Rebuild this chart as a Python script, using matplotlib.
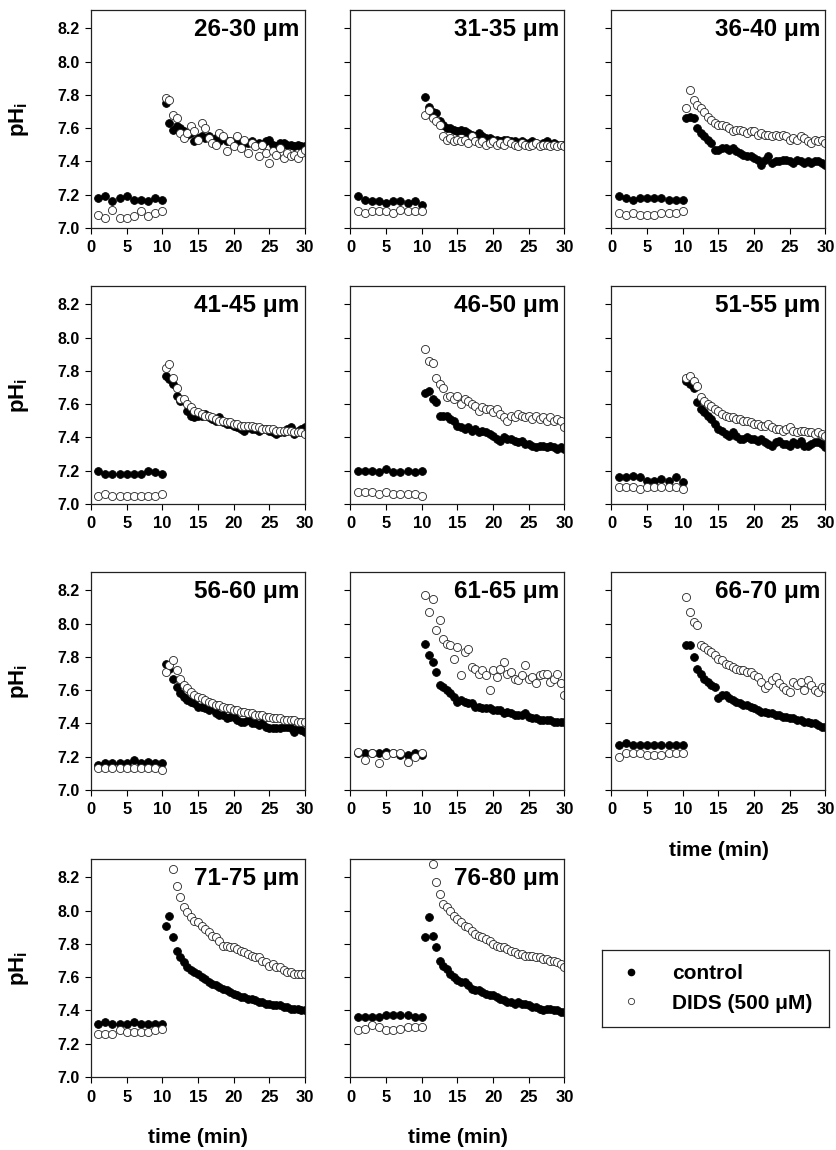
import numpy as np
import matplotlib
matplotlib.use("Agg")
import matplotlib.pyplot as plt
from matplotlib.lines import Line2D

plt.rcParams['font.family'] = ['Liberation Sans', 'DejaVu Sans']
plt.rcParams['mathtext.fontset'] = 'custom'
plt.rcParams['mathtext.rm'] = 'Liberation Sans:bold'
plt.rcParams['mathtext.bf'] = 'Liberation Sans:bold'
plt.rcParams['mathtext.it'] = 'Liberation Sans:bold'

# ---------------- data ----------------
time_base = [1, 2, 3, 4, 5, 6, 7, 8, 9, 10]
time_post = [10.5, 11.0, 11.5, 12.0, 12.5, 13.0, 13.5, 14.0, 14.5, 15.0,
             15.5, 16.0, 16.5, 17.0, 17.5, 18.0, 18.5, 19.0, 19.5, 20.0,
             20.5, 21.0, 21.5, 22.0, 22.5, 23.0, 23.5, 24.0, 24.5, 25.0,
             25.5, 26.0, 26.5, 27.0, 27.5, 28.0, 28.5, 29.0, 29.5, 30.0]
nan = float('nan')

panel_labels = ['26-30 μm', '31-35 μm', '36-40 μm', '41-45 μm', '46-50 μm',
                '51-55 μm', '56-60 μm', '61-65 μm', '66-70 μm', '71-75 μm',
                '76-80 μm']

ctrl_26_30 = [7.18, 7.19, 7.16, 7.18, 7.19, 7.17, 7.17, 7.16, 7.18, 7.17,
              7.75, 7.63, 7.59, 7.61, 7.60, 7.58, 7.56, 7.57, 7.52, 7.54,
              7.55, 7.54, 7.55, 7.53, 7.54, 7.52, 7.54, 7.52, 7.52, 7.51,
              7.53, 7.52, 7.51, 7.51, 7.52, 7.50, 7.51, 7.50, 7.52, 7.53,
              7.50, 7.49, 7.51, 7.51, 7.50, 7.50, 7.49, 7.50, 7.49, 7.49]
dids_26_30 = [7.08, 7.06, 7.11, 7.06, 7.06, 7.07, 7.10, 7.07, 7.09, 7.10,
              7.78, 7.77, 7.68, 7.66, 7.57, 7.54, 7.57, 7.61, 7.58, 7.53,
              7.63, 7.60, 7.54, 7.51, 7.50, 7.57, 7.55, 7.46, 7.52, 7.49,
              7.55, 7.48, 7.53, 7.45, 7.51, 7.49, 7.43, 7.50, 7.45, 7.39,
              7.46, 7.44, 7.48, 7.42, 7.45, 7.43, 7.44, 7.42, 7.45, 7.47]

ctrl_31_35 = [7.19, 7.17, 7.16, 7.16, 7.15, 7.16, 7.16, 7.15, 7.16, 7.14,
              7.79, 7.73, 7.70, 7.69, 7.64, 7.62, 7.60, 7.60, 7.59, 7.58,
              7.59, 7.58, 7.57, 7.56, 7.55, 7.57, 7.55, 7.54, 7.54, 7.53,
              7.53, 7.52, 7.53, 7.53, 7.52, 7.52, 7.51, 7.52, 7.51, 7.51,
              7.52, 7.51, 7.50, 7.51, 7.52, 7.50, 7.51, 7.50, 7.50, 7.50]
dids_31_35 = [7.10, 7.09, 7.10, 7.10, 7.10, 7.09, 7.11, 7.10, 7.10, 7.10,
              7.68, 7.71, 7.66, 7.64, 7.62, 7.55, 7.53, 7.54, 7.52, 7.53,
              7.52, 7.53, 7.51, 7.55, 7.52, 7.51, 7.52, 7.50, 7.51, 7.52,
              7.50, 7.51, 7.50, 7.52, 7.51, 7.50, 7.49, 7.51, 7.50, 7.49,
              7.50, 7.51, 7.49, 7.50, 7.50, 7.49, 7.50, 7.49, 7.50, 7.49]

ctrl_36_40 = [7.19, 7.18, 7.17, 7.18, 7.18, 7.18, 7.18, 7.17, 7.17, 7.17,
              7.66, 7.67, 7.66, 7.60, 7.57, 7.55, 7.53, 7.51, 7.47, 7.47,
              7.48, 7.48, 7.47, 7.48, 7.46, 7.45, 7.44, 7.43, 7.43, 7.42,
              7.41, 7.38, 7.41, 7.43, 7.39, 7.40, 7.40, 7.41, 7.41, 7.40,
              7.39, 7.41, 7.40, 7.39, 7.40, 7.39, 7.40, 7.40, 7.39, 7.38]
dids_36_40 = [7.09, 7.08, 7.09, 7.08, 7.08, 7.08, 7.09, 7.09, 7.09, 7.10,
              7.72, 7.83, 7.77, 7.74, 7.72, 7.70, 7.67, 7.65, 7.63, 7.62,
              7.62, 7.61, 7.60, 7.58, 7.59, 7.59, 7.58, 7.57, 7.58, 7.58,
              7.56, 7.57, 7.56, 7.56, 7.55, 7.56, 7.55, 7.56, 7.55, 7.53,
              7.54, 7.53, 7.55, 7.54, 7.52, 7.51, 7.53, 7.52, 7.53, 7.51]

ctrl_41_45 = [7.20, 7.18, 7.18, 7.18, 7.18, 7.18, 7.18, 7.20, 7.19, 7.18,
              7.77, 7.75, 7.72, 7.65, 7.62, 7.62, 7.56, 7.53, 7.52, 7.53,
              7.53, 7.54, 7.52, 7.51, 7.50, 7.52, 7.49, 7.48, 7.48, 7.47,
              7.46, 7.45, 7.44, 7.46, 7.45, 7.45, 7.44, 7.45, 7.45, 7.44,
              7.43, 7.42, 7.43, 7.43, 7.45, 7.46, 7.42, 7.44, 7.45, 7.46]
dids_41_45 = [7.05, 7.06, 7.05, 7.05, 7.05, 7.05, 7.05, 7.05, 7.05, 7.06,
              7.82, 7.84, 7.76, 7.70, 7.63, 7.63, 7.60, 7.58, 7.56, 7.55,
              7.54, 7.53, 7.53, 7.52, 7.51, 7.50, 7.50, 7.49, 7.49, 7.48,
              7.48, 7.47, 7.47, 7.47, 7.47, 7.46, 7.46, 7.45, 7.45, 7.45,
              7.45, 7.44, 7.44, 7.44, 7.44, 7.44, 7.43, 7.43, 7.43, 7.42]

ctrl_46_50 = [7.20, 7.20, 7.20, 7.19, 7.21, 7.19, 7.19, 7.20, 7.19, 7.20,
              7.67, 7.68, 7.63, 7.61, 7.53, 7.53, 7.53, 7.51, 7.50, 7.47,
              7.46, 7.45, 7.46, 7.44, 7.45, 7.43, 7.44, 7.43, 7.42, 7.41,
              7.39, 7.38, 7.40, 7.39, 7.39, 7.38, 7.37, 7.38, 7.36, 7.36,
              7.35, 7.34, 7.35, 7.35, 7.34, 7.35, 7.34, 7.33, 7.34, 7.33]
dids_46_50 = [7.07, 7.07, 7.07, 7.06, 7.07, 7.06, 7.06, 7.06, 7.06, 7.05,
              7.93, 7.86, 7.85, 7.76, 7.72, 7.70, 7.64, 7.65, 7.63, 7.65,
              7.60, 7.63, 7.62, 7.60, 7.59, 7.56, 7.58, 7.57, 7.57, 7.55,
              7.57, 7.54, 7.52, 7.50, 7.53, 7.52, 7.54, 7.53, 7.52, 7.53,
              7.51, 7.53, 7.51, 7.52, 7.50, 7.52, 7.50, 7.51, 7.50, 7.46]

ctrl_51_55 = [7.16, 7.16, 7.17, 7.16, 7.14, 7.14, 7.15, 7.14, 7.16, 7.13,
              7.74, 7.72, 7.70, 7.61, 7.57, 7.55, 7.53, 7.51, 7.48, 7.45,
              7.44, 7.42, 7.41, 7.43, 7.41, 7.39, 7.39, 7.40, 7.39, 7.39,
              7.38, 7.39, 7.37, 7.36, 7.35, 7.37, 7.38, 7.36, 7.36, 7.35,
              7.37, 7.36, 7.38, 7.35, 7.35, 7.36, 7.37, 7.37, 7.36, 7.34]
dids_51_55 = [7.10, 7.10, 7.10, 7.09, 7.10, 7.10, 7.10, 7.10, 7.10, 7.09,
              7.76, 7.77, 7.74, 7.71, 7.64, 7.62, 7.60, 7.59, 7.57, 7.56,
              7.54, 7.53, 7.52, 7.52, 7.51, 7.51, 7.50, 7.50, 7.49, 7.48,
              7.48, 7.47, 7.47, 7.48, 7.46, 7.45, 7.45, 7.44, 7.45, 7.46,
              7.44, 7.43, 7.44, 7.44, 7.43, 7.43, 7.42, 7.43, 7.42, 7.41]

ctrl_56_60 = [7.15, 7.16, 7.16, 7.16, 7.16, 7.18, 7.16, 7.17, 7.16, 7.16,
              7.76, 7.73, 7.67, 7.62, 7.58, 7.56, 7.54, 7.53, 7.52, 7.50,
              7.50, 7.49, 7.48, 7.49, 7.46, 7.45, 7.45, 7.43, 7.44, 7.44,
              7.42, 7.41, 7.41, 7.42, 7.40, 7.40, 7.39, 7.40, 7.38, 7.37,
              7.37, 7.37, 7.37, 7.38, 7.38, 7.37, 7.35, 7.37, 7.36, 7.35]
dids_56_60 = [7.13, 7.13, 7.13, 7.13, 7.13, 7.13, 7.13, 7.13, 7.13, 7.12,
              7.71, 7.75, 7.78, 7.72, 7.67, 7.63, 7.61, 7.59, 7.57, 7.56,
              7.55, 7.54, 7.53, 7.52, 7.51, 7.51, 7.50, 7.49, 7.49, 7.48,
              7.48, 7.47, 7.47, 7.46, 7.46, 7.45, 7.45, 7.45, 7.44, 7.44,
              7.43, 7.43, 7.43, 7.42, 7.42, 7.42, 7.42, 7.41, 7.41, 7.41]

ctrl_61_65 = [7.22, 7.22, 7.22, 7.22, 7.23, 7.22, 7.21, 7.21, 7.22, 7.21,
              7.88, 7.81, 7.77, 7.71, 7.63, 7.62, 7.60, 7.58, 7.56, 7.53,
              7.54, 7.53, 7.52, 7.52, 7.50, 7.50, 7.49, 7.49, 7.49, 7.48,
              7.48, 7.48, 7.46, 7.47, 7.46, 7.45, 7.45, 7.45, 7.46, 7.44,
              7.43, 7.43, 7.42, 7.42, 7.42, 7.42, 7.41, 7.41, 7.41, 7.41]
dids_61_65 = [7.23, 7.18, 7.22, 7.16, 7.21, 7.22, 7.22, 7.17, 7.20, 7.22,
              8.17, 8.07, 8.15, 7.96, 8.02, 7.91, 7.88, 7.87, 7.79, 7.86,
              7.69, 7.83, 7.85, 7.74, 7.73, 7.70, 7.72, 7.69, 7.60, 7.72,
              7.68, 7.73, 7.77, 7.70, 7.71, 7.67, 7.66, 7.69, 7.75, 7.67,
              7.68, 7.64, 7.69, 7.70, 7.70, 7.65, 7.67, 7.70, 7.64, 7.57]

ctrl_66_70 = [7.27, 7.28, 7.27, 7.27, 7.27, 7.27, 7.27, 7.27, 7.27, 7.27,
              7.87, 7.87, 7.80, 7.73, 7.70, 7.67, 7.65, 7.63, 7.62, 7.55,
              7.57, 7.57, 7.55, 7.54, 7.53, 7.52, 7.51, 7.51, 7.50, 7.49,
              7.48, 7.47, 7.47, 7.46, 7.46, 7.45, 7.45, 7.44, 7.44, 7.43,
              7.43, 7.42, 7.42, 7.41, 7.41, 7.40, 7.40, 7.39, 7.38, 7.38]
dids_66_70 = [7.20, 7.22, 7.22, 7.22, 7.21, 7.21, 7.21, 7.22, 7.22, 7.22,
              8.16, 8.07, 8.01, 7.99, 7.87, 7.86, 7.84, 7.83, 7.81, 7.79,
              7.78, 7.76, 7.75, 7.74, 7.73, 7.72, 7.72, 7.71, 7.71, 7.69,
              7.68, 7.65, 7.61, 7.63, 7.66, 7.68, 7.64, 7.62, 7.60, 7.59,
              7.65, 7.63, 7.65, 7.60, 7.66, 7.63, 7.60, 7.59, 7.62, 7.61]

ctrl_71_75 = [7.32, 7.33, 7.32, 7.32, 7.32, 7.33, 7.32, 7.32, 7.32, 7.32,
              7.91, 7.97, 7.84, 7.76, 7.72, 7.69, 7.66, 7.64, 7.63, 7.62,
              7.60, 7.59, 7.57, 7.56, 7.55, 7.54, 7.53, 7.52, 7.51, 7.50,
              7.49, 7.48, 7.48, 7.47, 7.47, 7.46, 7.45, 7.45, 7.44, 7.44,
              7.43, 7.43, 7.43, 7.42, 7.42, 7.41, 7.41, 7.41, 7.40, 7.40]
dids_71_75 = [7.26, 7.26, 7.26, 7.28, 7.27, 7.27, 7.27, 7.27, 7.28, 7.29,
              nan, nan, 8.25, 8.15, 8.08, 8.02, 7.99, 7.96, 7.94, 7.93,
              7.91, 7.89, 7.87, 7.85, 7.84, 7.82, 7.79, 7.79, 7.78, 7.78,
              7.77, 7.76, 7.75, 7.74, 7.73, 7.72, 7.72, 7.70, 7.69, 7.67,
              7.68, 7.66, 7.66, 7.64, 7.63, 7.63, 7.62, 7.62, 7.62, 7.62]

ctrl_76_80 = [7.36, 7.36, 7.36, 7.36, 7.37, 7.37, 7.37, 7.37, 7.36, 7.36,
              7.84, 7.96, 7.85, 7.78, 7.70, 7.67, 7.65, 7.62, 7.60, 7.58,
              7.57, 7.57, 7.55, 7.53, 7.52, 7.52, 7.51, 7.50, 7.49, 7.49,
              7.48, 7.47, 7.46, 7.45, 7.45, 7.44, 7.45, 7.44, 7.44, 7.43,
              7.42, 7.42, 7.41, 7.40, 7.41, 7.41, 7.40, 7.40, 7.39, 7.39]
dids_76_80 = [7.28, 7.29, 7.31, 7.30, 7.28, 7.28, 7.29, 7.30, 7.30, 7.30,
              nan, nan, 8.28, 8.17, 8.10, 8.04, 8.02, 8.00, 7.97, 7.95,
              7.93, 7.91, 7.90, 7.88, 7.86, 7.85, 7.84, 7.83, 7.82, 7.80,
              7.79, 7.78, 7.78, 7.77, 7.76, 7.75, 7.74, 7.74, 7.73, 7.73,
              7.73, 7.72, 7.72, 7.71, 7.71, 7.70, 7.70, 7.69, 7.68, 7.66]

control_series = [ctrl_26_30, ctrl_31_35, ctrl_36_40, ctrl_41_45, ctrl_46_50,
                  ctrl_51_55, ctrl_56_60, ctrl_61_65, ctrl_66_70, ctrl_71_75,
                  ctrl_76_80]
dids_series = [dids_26_30, dids_31_35, dids_36_40, dids_41_45, dids_46_50,
               dids_51_55, dids_56_60, dids_61_65, dids_66_70, dids_71_75,
               dids_76_80]

y_ticks = [7.0, 7.2, 7.4, 7.6, 7.8, 8.0, 8.2]
x_ticks = [0, 5, 10, 15, 20, 25, 30]
legend_labels = ['control', 'DIDS (500 μM)']

# ---------------- layout ----------------
W, H = 837, 1150
fig = plt.figure(figsize=(W / 100, H / 100), dpi=100)

col_left = [91, 350.5, 611.5]
row_top = [10, 286, 572, 859]
ax_w, ax_h = 214, 218

time_all = time_base + time_post

for i in range(11):
    r, c = divmod(i, 3)
    x0 = col_left[c]
    y0 = row_top[r]
    ax = fig.add_axes([x0 / W, 1 - (y0 + ax_h) / H, ax_w / W, ax_h / H])
    ax.plot(time_all, control_series[i], 'o', ms=5.6, mfc='black',
            mec='black', mew=0.6, ls='none', label=legend_labels[0])
    ax.plot(time_all, dids_series[i], 'o', ms=5.8, mfc='white',
            mec='#222222', mew=0.6, ls='none', label=legend_labels[1])
    ax.set_xlim(0, 30)
    ax.set_ylim(7.0, 8.31)
    ax.set_xticks(x_ticks)
    ax.set_yticks(y_ticks)
    ax.tick_params(axis='x', direction='out', length=4, width=0.8,
                   labelsize=12, pad=5)
    ax.tick_params(axis='y', direction='out', length=4, width=0.8,
                   labelsize=11.5, pad=4)
    for lab in ax.get_xticklabels():
        lab.set_fontweight('bold')
    if c == 0:
        ax.set_yticklabels(['%.1f' % v for v in y_ticks], fontweight='bold')
        ax.set_ylabel('pH$_\\mathregular{i}$', fontsize=16, fontweight='bold')
        ax.yaxis.set_label_coords(-0.28, 0.5)
    else:
        ax.set_yticklabels([])
    for sp in ax.spines.values():
        sp.set_linewidth(0.9)
        sp.set_color('#222222')
    ax.text(0.975, 0.965, panel_labels[i], transform=ax.transAxes,
            ha='right', va='top', fontsize=17.5, fontweight='bold')
    if i in (8, 9, 10):
        ax.set_xlabel('time (min)', fontsize=15, fontweight='bold')
        ax.xaxis.set_label_coords(0.5, -0.235)
    if i == 0:
        handles = [
            Line2D([], [], marker='o', ls='none', ms=4.5, mfc='black', mec='black'),
            Line2D([], [], marker='o', ls='none', ms=4.5, mfc='white', mec='#333333', mew=0.6),
        ]

# legend box
lax = fig.add_axes([602 / W, 1 - 1027 / H, 227 / W, 77 / H])
lax.set_xticks([])
lax.set_yticks([])
for sp in lax.spines.values():
    sp.set_linewidth(0.9)
    sp.set_color('#222222')
lax.legend(handles, legend_labels, loc='center', frameon=False,
           prop={'size': 15, 'weight': 'bold'}, handletextpad=1.4,
           labelspacing=0.5, handlelength=1.2)

fig.savefig('out.png', dpi=100)
